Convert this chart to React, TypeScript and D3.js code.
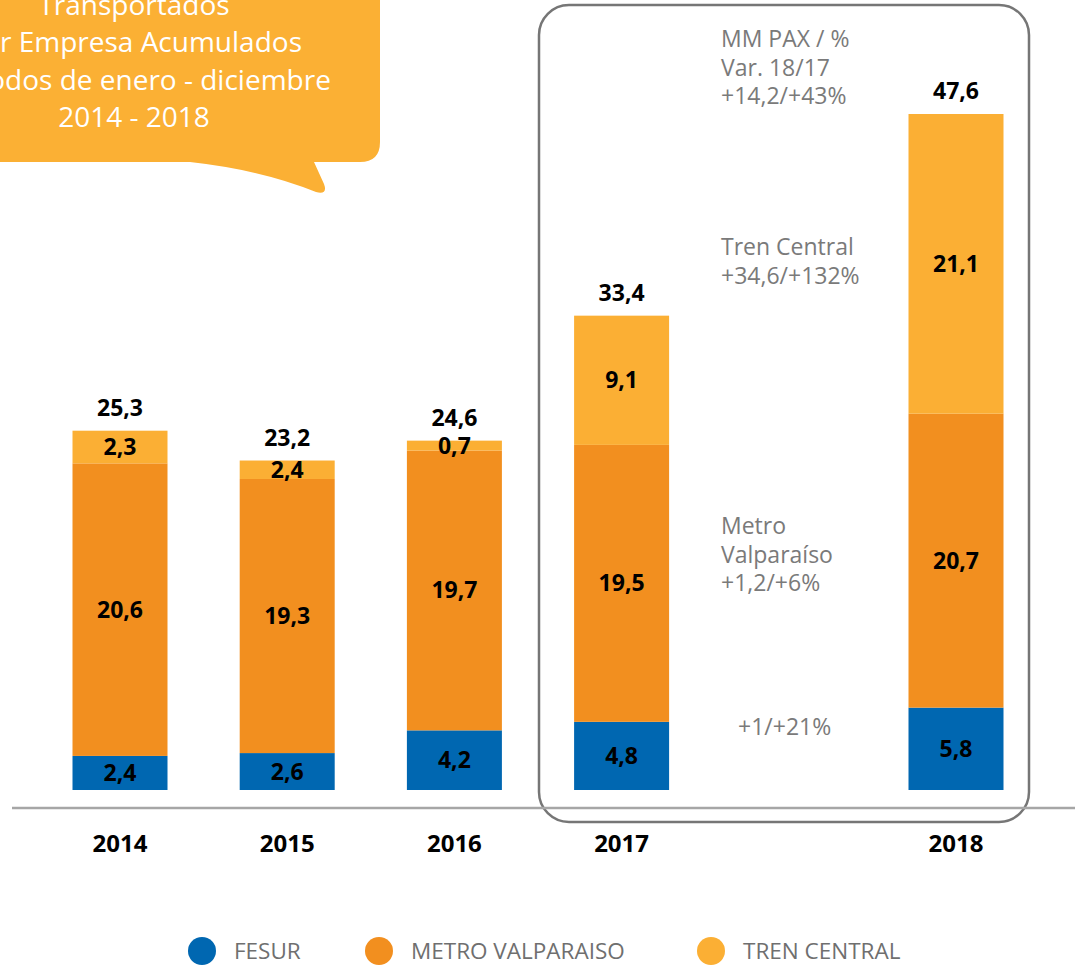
import React from "react";
import * as d3 from "d3";

// Pasajeros transportados por empresa (MM), enero - diciembre
const years = ["2014", "2015", "2016", "2017", "2018"];
const slots = ["2014", "2015", "2016", "2017", "gap", "2018"];
const fesur = [2.4, 2.6, 4.2, 4.8, 5.8];
const metro = [20.6, 19.3, 19.7, 19.5, 20.7];
const tren = [2.3, 1.3, 0.7, 9.1, 21.1];
// label printed on the 2015 tren segment differs from its drawn height
const trenLabels = ["2,3", "2,4", "0,7", "9,1", "21,1"];

const seriesNames = ["FESUR", "METRO VALPARAISO", "TREN CENTRAL"];
const seriesColors = ["#0067b1", "#f28f1f", "#fbaf34"];

const bubbleLines = ["Transportados", "por Empresa Acumulados", "Períodos de enero - diciembre", "2014 - 2018"];
const noteLines = [
  ["MM PAX / %", "Var. 18/17", "+14,2/+43%"],
  ["Tren Central", "+34,6/+132%"],
  ["Metro", "Valparaíso", "+1,2/+6%"],
  ["+1/+21%"],
];

const W = 1075;
const H = 971;
const font = "'Open Sans', sans-serif";

const fmt = (v: number) => d3.format(".1f")(v).replace(".", ",");

export default function App() {
  const rows = years.map((y, i) => ({ year: y, fesur: fesur[i], metro: metro[i], tren: tren[i] }));
  const keys = ["fesur", "metro", "tren"];
  const stacked = d3.stack<any>().keys(keys)(rows);
  const totals = rows.map((r) => r.fesur + r.metro + r.tren);

  const x = d3.scalePoint<string>().domain(slots).range([120, 956]);
  const y = d3.scaleLinear().domain([0, d3.max(totals) as number]).range([790, 114]);
  const barW = 95;

  const noteX = 721;
  const noteY = [47, 255, 534, 735];

  return (
    <svg width={W} height={H} style={{ position: "absolute", left: 0, top: 0, background: "#fff" }} fontFamily={font}>
      {/* speech bubble */}
      <path
        d="M -20 -20 H 380 V 142 Q 380 162 360 162 H 314 L 324 184 Q 328 195 316 192 Q 262 170 190 162 H -20 Z"
        fill="#fbb034"
      />
      {bubbleLines.map((t, i) => (
        <text key={t} x={134} y={15 + i * 37.3} textAnchor="middle" fill="#fff" fontSize={28}>
          {t}
        </text>
      ))}

      {/* highlight box 2017-2018 */}
      <rect x={539} y={5} width={490} height={817} rx={30} fill="none" stroke="#767676" strokeWidth={2.5} />

      {/* bars */}
      {stacked.map((s, si) =>
        s.map((d, i) => (
          <rect
            key={`${si}-${i}`}
            x={(x(years[i]) as number) - barW / 2}
            y={y(d[1])}
            width={barW}
            height={y(d[0]) - y(d[1])}
            fill={seriesColors[si]}
          />
        ))
      )}

      {/* segment labels */}
      {stacked.map((s, si) =>
        s.map((d, i) => (
          <text
            key={`l${si}-${i}`}
            x={x(years[i]) as number}
            y={(y(d[0]) + y(d[1])) / 2 + 8}
            textAnchor="middle"
            fontSize={23}
            fontWeight={700}
            fill="#000"
          >
            {si === 2 ? trenLabels[i] : fmt(d[1] - d[0])}
          </text>
        ))
      )}

      {/* totals */}
      {totals.map((t, i) => (
        <text key={`t${i}`} x={x(years[i]) as number} y={y(t) - 15} textAnchor="middle" fontSize={23} fontWeight={700} fill="#000">
          {fmt(t)}
        </text>
      ))}

      {/* axis */}
      <line x1={12} x2={W} y1={808} y2={808} stroke="#a6a6a6" strokeWidth={2.5} />
      {years.map((yr) => (
        <text key={yr} x={x(yr) as number} y={852} textAnchor="middle" fontSize={24} fontWeight={700} fill="#000">
          {yr}
        </text>
      ))}

      {/* variation notes */}
      {noteLines.map((lines, ni) =>
        lines.map((t, li) => (
          <text
            key={`n${ni}-${li}`}
            x={ni === 3 ? 738 : noteX}
            y={noteY[ni] + li * 28.7}
            fontSize={23}
            fill="#7a7a7a"
          >
            {t}
          </text>
        ))
      )}

      {/* legend */}
      {seriesNames.map((n, i) => {
        const lx = [202, 379, 711][i];
        return (
          <g key={n}>
            <circle cx={lx} cy={951} r={14} fill={seriesColors[i]} />
            <text x={lx + 32} y={959} fontSize={22.5} fill="#6f6f6f">
              {n}
            </text>
          </g>
        );
      })}
    </svg>
  );
}
